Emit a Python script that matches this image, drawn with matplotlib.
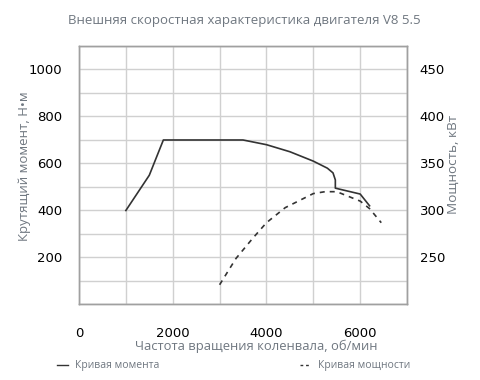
import matplotlib
matplotlib.use("Agg")
import matplotlib.pyplot as plt
from matplotlib.lines import Line2D

# Данные
rpm_moment = [1000, 1500, 1800, 3500, 4000, 4500, 5000, 5300, 5420, 5470, 5470, 6000, 6200]
moment = [400, 550, 700, 700, 680, 650, 610, 580, 560, 530, 495, 470, 420]

rpm_power = [3000, 3350, 3700, 4000, 4400, 5000, 5250, 5500, 6000, 6200, 6450]
power = [221, 249, 270, 287, 303, 318, 320, 320, 310, 302, 287]

x_ticks = [0, 2000, 4000, 6000]
y_left_ticks = [200, 400, 600, 800, 1000]
y_right_ticks = [250, 300, 350, 400, 450]

title = "Внешняя скоростная характеристика двигателя V8 5.5"
x_label = "Частота вращения коленвала, об/мин"
y_left_label = "Крутящий момент, Н•м"
y_right_label = "Мощность, кВт"
legend_moment = "Кривая момента"
legend_power = "Кривая мощности"

grey_text = "#6f7780"
line_color = "#333333"

plt.rcParams["font.family"] = ["Open Sans", "DejaVu Sans"]

fig = plt.figure(figsize=(4.8, 3.8), dpi=100)
ax = fig.add_axes([0.1646, 0.1987, 0.6834, 0.6803])
ax2 = ax.twinx()

ax.plot(rpm_moment, moment, color=line_color, lw=1.2)
ax2.plot(rpm_power, power, color=line_color, lw=1.2, ls=(0, (3, 3)))

ax.set_xlim(0, 7000)
ax.set_ylim(0, 1100)
ax2.set_ylim(200, 475)

ax.set_xticks(x_ticks)
ax.set_xticks(range(0, 7001, 1000), minor=True)
ax.set_yticks(y_left_ticks)
ax.set_yticks(range(0, 1101, 100), minor=True)
ax2.set_yticks(y_right_ticks)

ax.grid(True, which="both", color="#d0d0d0", lw=1)
ax.set_axisbelow(True)
ax.tick_params(which="both", length=0)
ax2.tick_params(which="both", length=0)
ax.tick_params(axis="x", pad=16, labelsize=9.5)
ax.tick_params(axis="y", pad=12, labelsize=9.5)
ax2.tick_params(axis="y", pad=9, labelsize=9.5)
for lab in ax.get_xticklabels() + ax.get_yticklabels() + ax2.get_yticklabels():
    lab.set_family(["DejaVu Sans"])
    lab.set_color("black")

for a in (ax, ax2):
    for s in a.spines.values():
        s.set_color("#a0a0a0")
        s.set_linewidth(1)

fig.text(0.508, 0.947, title, ha="center", va="center", fontsize=9.5, color=grey_text)
ax.set_xlabel(x_label, fontsize=9.4, color=grey_text)
ax.xaxis.set_label_coords(0.54, -0.135)
ax.set_ylabel(y_left_label, fontsize=9.5, color=grey_text)
ax.yaxis.set_label_coords(-0.147, 0.536)
ax2.set_ylabel(y_right_label, fontsize=9.7, color=grey_text)
ax2.yaxis.set_label_coords(1.122, 0.54)

h1 = Line2D([], [], color=line_color, lw=1)
h2 = Line2D([], [], color=line_color, lw=1, ls=(0, (2, 2)))
fig.legend([h1], [legend_moment], loc="center left", bbox_to_anchor=(0.119, 0.037),
           frameon=False, fontsize=7.5, handlelength=1.0, handletextpad=0.7,
           labelcolor=grey_text, borderaxespad=0, borderpad=0)
fig.legend([h2], [legend_power], loc="center left", bbox_to_anchor=(0.625, 0.037),
           frameon=False, fontsize=7.5, handlelength=1.0, handletextpad=0.7,
           labelcolor=grey_text, borderaxespad=0, borderpad=0)

fig.savefig("out.png", dpi=100)
